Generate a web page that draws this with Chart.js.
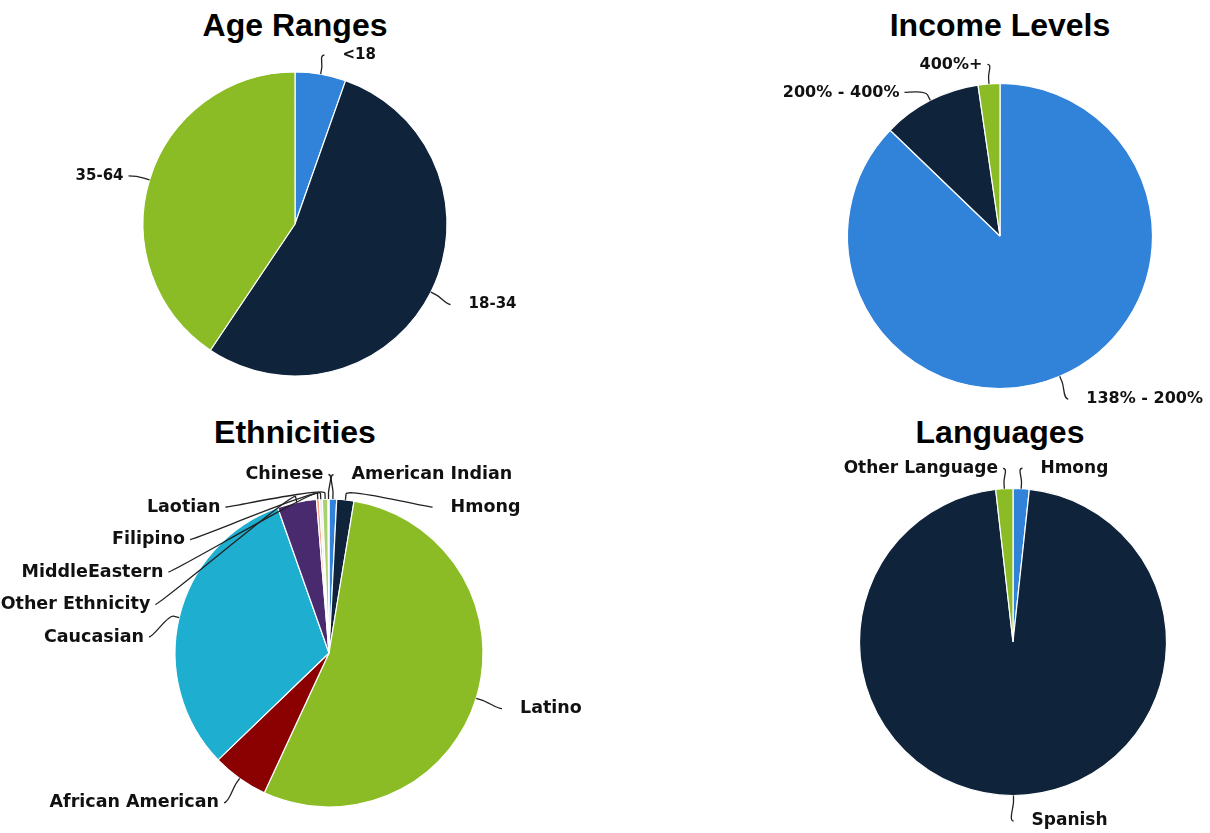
<!DOCTYPE html>
<html>
<head>
<meta charset="utf-8">
<script src="https://cdn.jsdelivr.net/npm/chart.js@4.4.1/dist/chart.umd.min.js"></script>
<style>
  html, body { margin: 0; padding: 0; background: #fff; overflow: hidden; }
  body { width: 1210px; height: 833px; position: relative; }
  canvas { position: absolute; }
  .chart-title {
    position: absolute;
    width: 400px;
    height: 38px;
    line-height: 38px;
    text-align: center;
    font: bold 32px "Liberation Sans", Arial, sans-serif;
    color: #000;
    white-space: nowrap;
  }
</style>
</head>
<body>
<div class="chart-title" style="left:95px;top:7px">Age Ranges</div>
<div class="chart-title" style="left:800px;top:7px">Income Levels</div>
<div class="chart-title" style="left:95px;top:414px">Ethnicities</div>
<div class="chart-title" style="left:800px;top:414px">Languages</div>

<canvas id="chartAge" width="600" height="416" style="left:0;top:0"></canvas>
<canvas id="chartIncome" width="450" height="416" style="left:760px;top:0"></canvas>
<canvas id="chartEthnicity" width="600" height="417" style="left:0;top:416px"></canvas>
<canvas id="chartLanguage" width="450" height="417" style="left:760px;top:416px"></canvas>
<script>
// Data (shares in %)
const ageLabels = ['<18', '18-34', '35-64'];
const ageValues = [5.4, 54.0, 40.6];

const incomeLabels = ['138% - 200%', '200% - 400%', '400%+'];
const incomeValues = [87.2, 10.5, 2.3];

const ethnicityLabels = ['American Indian', 'Hmong', 'Latino', 'African American', 'Caucasian',
  'Other Ethnicity', 'MiddleEastern', 'Filipino', 'Laotian', 'Chinese'];
const ethnicityValues = [0.8, 1.8, 54.3, 5.9, 31.8, 4.1, 0.3, 0.3, 0.6, 0.1];

const languageLabels = ['Hmong', 'Spanish', 'Other Language'];
const languageValues = [1.7, 96.5, 1.8];

const palette = ['#3182d9', '#0f233b', '#8bbc25', '#8b0000', '#1eaecf',
  '#4a2a6f', '#f4a582', '#eeeeee', '#a9d16e', '#9dc3e6'];

// labels outside the pie with soft connectors
const outLabels = {
  id: 'outLabels',
  afterDraw(chart, args, opts) {
    const ctx = chart.ctx;
    const meta = chart.getDatasetMeta(0);
    const names = chart.data.labels;
    const spacing = opts.spacing;

    const items = meta.data.map((arc, i) => {
      const p = arc.getProps(['x', 'y', 'startAngle', 'endAngle', 'outerRadius'], true);
      const a = (p.startAngle + p.endAngle) / 2;
      const R = p.outerRadius + opts.distance;
      return {
        i, a, cx: p.x, cy: p.y, r: p.outerRadius, R,
        left: a > Math.PI / 2,
        nx: p.x + R * Math.cos(a),
        ny: p.y + R * Math.sin(a),
      };
    });
    if (!items.length) return;
    const top = items[0].cy - items[0].r - opts.topGap;
    const bottom = items[0].cy + items[0].r + opts.bottomGap;

    [true, false].forEach((side) => {
      const list = items.filter((it) => it.left === side).sort((a, b) => a.ny - b.ny);
      let prev = -Infinity;
      list.forEach((it) => {
        it.y = Math.max(it.ny, prev + spacing, top);
        prev = it.y;
      });
      let next = Infinity;
      for (let k = list.length - 1; k >= 0; k--) {
        const it = list[k];
        it.y = Math.min(it.y, next - spacing, bottom);
        next = it.y;
      }
      list.forEach((it) => {
        const dir = it.left ? -1 : 1;
        if (Math.abs(it.y - it.ny) < 0.5 || it.y === top || it.y === bottom) {
          it.x = it.nx;
        } else {
          const dy = it.y - it.cy;
          it.x = it.cx + dir * Math.sqrt(Math.max(it.R * it.R - dy * dy, 0));
        }
      });
    });

    ctx.save();
    ctx.font = 'bold ' + opts.fontSize + 'px "DejaVu Sans"';
    ctx.textBaseline = 'middle';
    items.forEach((it) => {
      const tx = it.cx + it.r * Math.cos(it.a);
      const ty = it.cy + it.r * Math.sin(it.a);
      const bx = it.cx + (it.r + opts.connectorOffset) * Math.cos(it.a);
      const by = it.cy + (it.r + opts.connectorOffset) * Math.sin(it.a);
      const dir = it.left ? -1 : 1;
      const ly = it.y + opts.shiftY;

      ctx.beginPath();
      ctx.moveTo(it.x, ly);
      ctx.bezierCurveTo(it.x - dir * 5, ly, 2 * bx - tx, 2 * by - ty, bx, by);
      ctx.lineTo(tx, ty);
      ctx.strokeStyle = '#222';
      ctx.lineWidth = 1.3;
      ctx.stroke();

      ctx.fillStyle = '#111';
      if (it.left) {
        ctx.textAlign = 'right';
        ctx.fillText(names[it.i], it.x - opts.gapLeft, ly);
      } else {
        ctx.textAlign = 'left';
        ctx.fillText(names[it.i], it.x + opts.gapRight, ly);
      }
    });
    ctx.restore();
  },
};

function makePie(id, labels, values, radius, padding, label) {
  return new Chart(document.getElementById(id), {
    type: 'pie',
    data: {
      labels: labels,
      datasets: [{
        data: values,
        backgroundColor: palette.slice(0, values.length),
        borderColor: '#ffffff',
        borderWidth: 1.2,
        hoverOffset: 0,
        radius: radius,
      }],
    },
    options: {
      responsive: false,
      animation: false,
      layout: { padding: padding },
      plugins: {
        legend: { display: false },
        tooltip: { enabled: false },
        title: { display: false },
        outLabels: Object.assign({
          connectorOffset: 6,
          topGap: 34,
          bottomGap: 30,
          gapLeft: 5,
          gapRight: 18,
          shiftY: 2.5,
        }, label),
      },
    },
    plugins: [outLabels],
  });
}

makePie('chartAge', ageLabels, ageValues, 152,
  { top: 32, bottom: 0, left: 0, right: 10 },
  { fontSize: 15, distance: 22, spacing: 26 });
makePie('chartIncome', incomeLabels, incomeValues, 152.5,
  { top: 56, bottom: 0, left: 30, right: 0 },
  { fontSize: 16, distance: 22, spacing: 28 });
makePie('chartEthnicity', ethnicityLabels, ethnicityValues, 154,
  { top: 57, bottom: 0, left: 58, right: 0 },
  { fontSize: 17.5, distance: 27, spacing: 32.5 });
makePie('chartLanguage', languageLabels, languageValues, 153.5,
  { top: 35, bottom: 0, left: 56, right: 0 },
  { fontSize: 17, distance: 23, spacing: 30 });
</script>
</body>
</html>
